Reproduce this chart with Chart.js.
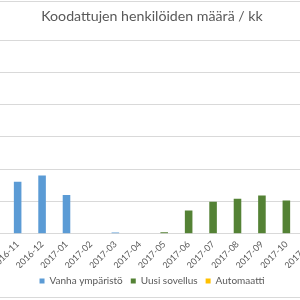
<!DOCTYPE html>
<html>
<head>
<meta charset="utf-8">
<script src="https://cdn.jsdelivr.net/npm/chart.js@4/dist/chart.umd.min.js"></script>
<style>
  body { margin: 0; background: #fff; }
  .view { position: relative; width: 300px; height: 300px; overflow: hidden; }
  .frame { position: absolute; left: 0; top: 1px; width: 300px; height: 295px;
           border-top: 1px solid #d9d9d9; border-bottom: 1px solid #d9d9d9; }
  .wrap { position: absolute; left: -30px; top: 0; width: 364px; height: 300px; }
</style>
</head>
<body>
<div class="view">
  <div class="frame"></div>
  <div class="wrap"><canvas id="chart"></canvas></div>
</div>
<script>
// 2016-10 lies just outside the cropped view
const months = ["2016-10", "2016-11", "2016-12", "2017-01", "2017-02", "2017-03", "2017-04", "2017-05",
                "2017-06", "2017-07", "2017-08", "2017-09", "2017-10", "2017-11"]
const vanhaYmparisto = [null, 161, 181, 120, null, 4, null, null, null, null, null, null, null, null]
const uusiSovellus = [null, null, null, null, null, null, null, 5, 72, 99, 109, 119, 103, null]
const automaatti = [null, null, null, null, null, null, null, null, null, null, null, null, null, null]

const grey = "#595959"

new Chart(document.getElementById("chart"), {
    type: "bar",
    data: {
        labels: months,
        datasets: [
            { label: "Vanha ympäristö", data: vanhaYmparisto, backgroundColor: "#5b9bd5" },
            { label: "Uusi sovellus", data: uusiSovellus, backgroundColor: "#548235" },
            { label: "Automaatti", data: automaatti, backgroundColor: "#ffc000" }
        ]
    },
    options: {
        responsive: true,
        maintainAspectRatio: false,
        animation: false,
        barPercentage: 0.31,
        categoryPercentage: 1,
        layout: { padding: { left: 11, right: 11, top: 0, bottom: 4 } },
        plugins: {
            title: {
                display: true,
                text: "Koodattujen henkilöiden määrä / kk",
                color: grey,
                font: { family: "Lato", size: 14.2, weight: "normal" },
                padding: { top: 8, bottom: 15 }
            },
            legend: {
                position: "bottom",
                labels: {
                    color: grey,
                    font: { family: "Lato", size: 10 },
                    boxWidth: 5,
                    boxHeight: 5,
                    padding: 8
                }
            },
            tooltip: { enabled: false }
        },
        scales: {
            x: {
                stacked: true,
                grid: { display: false },
                border: { display: false },
                ticks: {
                    color: grey,
                    font: { family: "Lato", size: 9 },
                    minRotation: 45,
                    maxRotation: 45,
                    autoSkip: false,
                    padding: -3
                }
            },
            y: {
                stacked: true,
                min: 0,
                max: 600,
                grid: { color: "#d9d9d9", drawTicks: false },
                border: { display: false },
                ticks: { display: false, stepSize: 100 }
            }
        }
    }
})
</script>
</body>
</html>
